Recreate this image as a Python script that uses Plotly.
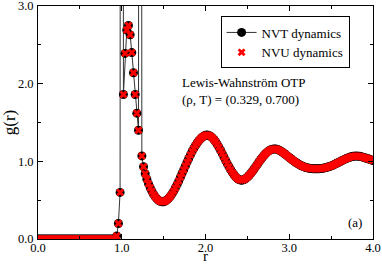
import plotly.graph_objects as go

# ---- data ----
# radial grid, step 0.02 from 0.00 to 4.00
r = [round(0.02 * i, 2) for i in range(201)]

g_nvt = (
    [0.0] * 47  # r = 0.00 .. 0.92
    + [0.04, 0.20, 0.60]  # 0.94, 0.96, 0.98
    # 1.00 .. 1.98
    + [40.0, 1.86, 2.39, 2.69, 2.75, 2.63, 2.40, 2.14, 1.86, 1.62,
       1.40, 30.0, 1.07, 0.93, 0.84, 0.77, 0.71, 0.66, 0.615, 0.575,
       0.543, 0.517, 0.498, 0.485, 0.479, 0.480, 0.488, 0.503, 0.524, 0.550,
       0.581, 0.617, 0.657, 0.700, 0.746, 0.794, 0.843, 0.892, 0.941, 0.990,
       1.037, 1.083, 1.126, 1.166, 1.203, 1.236, 1.265, 1.290, 1.310, 1.325]
    # 2.00 .. 2.98
    + [1.335, 1.338, 1.334, 1.323, 1.305, 1.281, 1.252, 1.218, 1.181, 1.141,
       1.099, 1.056, 1.013, 0.971, 0.931, 0.893, 0.858, 0.827, 0.800, 0.779,
       0.765, 0.758, 0.758, 0.765, 0.778, 0.796, 0.818, 0.843, 0.871, 0.901,
       0.932, 0.963, 0.994, 1.024, 1.052, 1.078, 1.101, 1.121, 1.137, 1.149,
       1.157, 1.160, 1.158, 1.152, 1.143, 1.131, 1.117, 1.101, 1.084, 1.067]
    # 3.00 .. 4.00
    + [1.050, 1.033, 1.016, 1.000, 0.985, 0.971, 0.958, 0.947, 0.937, 0.928,
       0.921, 0.915, 0.911, 0.908, 0.906, 0.905, 0.905, 0.905, 0.906, 0.908,
       0.911, 0.915, 0.920, 0.926, 0.933, 0.941, 0.950, 0.960, 0.971, 0.982,
       0.993, 1.004, 1.015, 1.025, 1.035, 1.044, 1.052, 1.059, 1.064, 1.067,
       1.068, 1.067, 1.064, 1.060, 1.054, 1.047, 1.040, 1.033, 1.026, 1.018,
       1.010]
)

# NVU run coincides with NVT within the resolution of the picture
g_nvu = list(g_nvt)

x_ticks = [0.0, 1.0, 2.0, 3.0, 4.0]
x_labels = ["0.0", "1.0", "2.0", "3.0", "4.0"]
y_ticks = [0.0, 1.0, 2.0, 3.0]
y_labels = ["0.0", "1.0", "2.0", "3.0"]

FONT = "Liberation Serif, Times New Roman, Times, serif"

fig = go.Figure()
fig.add_trace(go.Scatter(
    x=r, y=g_nvt, mode="lines+markers", name="NVT dynamics",
    line=dict(color="#333333", width=1),
    marker=dict(symbol="circle", size=9, color="black"),
    cliponaxis=True,
))
fig.add_trace(go.Scatter(
    x=r, y=g_nvu, mode="markers", name="NVU dynamics",
    marker=dict(symbol="x", size=7, color="#ff0000", line=dict(width=0)),
    cliponaxis=True,
))

axis_common = dict(
    showline=True, linecolor="black", linewidth=1, mirror="ticks",
    ticks="inside", ticklen=5, tickwidth=1, tickcolor="black",
    showgrid=False, zeroline=False, automargin=False,
    ticklabeloverflow="allow",
    tickfont=dict(family=FONT, size=12.5, color="black"),
    minor=dict(ticks="inside", ticklen=3, dtick=0.5, tickcolor="black", showgrid=False),
)

fig.update_xaxes(
    range=[0, 4], tickvals=x_ticks, ticktext=x_labels, ticklabelstandoff=-3,
    **axis_common,
)
fig.update_yaxes(
    range=[0, 3], tickvals=y_ticks, ticktext=y_labels, ticklabelstandoff=1,
    title=dict(text="g(r)", font=dict(family=FONT, size=17, color="black"), standoff=1),
    **axis_common,
)

# x-axis title placed as an annotation so it sits as tightly as in the reference
fig.add_annotation(x=0.5, y=-0.114, xref="paper", yref="paper", text="r",
                   showarrow=False, xanchor="center", yanchor="bottom",
                   font=dict(family=FONT, size=15, color="black"))

fig.add_annotation(x=1.69, y=2.02, xref="x", yref="y", text="Lewis-Wahnström OTP",
                   showarrow=False, xanchor="left", yanchor="middle",
                   font=dict(family=FONT, size=13, color="black"))
fig.add_annotation(x=1.69, y=1.80, xref="x", yref="y", text="(ρ, T) = (0.329, 0.700)",
                   showarrow=False, xanchor="left", yanchor="middle",
                   font=dict(family=FONT, size=13, color="black"))
fig.add_annotation(x=3.78, y=0.21, xref="x", yref="y", text="(a)",
                   showarrow=False, xanchor="center", yanchor="middle",
                   font=dict(family=FONT, size=13, color="black"))

fig.update_layout(
    width=382, height=264,
    margin=dict(l=38, r=9, t=6, b=25),
    paper_bgcolor="white", plot_bgcolor="white",
    showlegend=True,
    legend=dict(
        x=0.545, y=0.955, xanchor="left", yanchor="top",
        bgcolor="white", bordercolor="black", borderwidth=1,
        font=dict(family=FONT, size=13, color="black"),
        itemwidth=30, tracegroupgap=0,
    ),
    font=dict(family=FONT, color="black"),
)

fig.write_html(
    "out.html",
    config={"displayModeBar": False},
    post_script="document.body.style.margin='0';document.body.style.padding='0';",
)
